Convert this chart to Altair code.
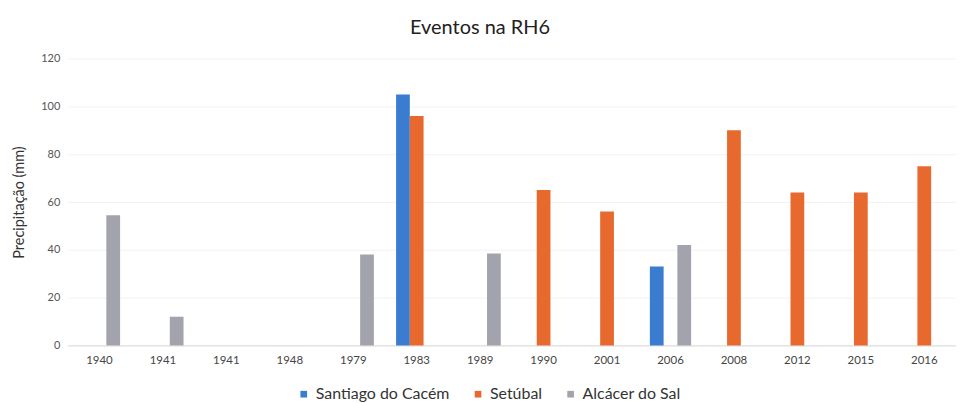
import altair as alt
import pandas as pd

categories = ["1940", "1941", "1941", "1948", "1979", "1983", "1989",
              "1990", "2001", "2006", "2008", "2012", "2015", "2016"]
series = ["Santiago do Cacém", "Setúbal", "Alcácer do Sal"]
colors = ["#3A7DD0", "#E8692E", "#A3A3AD"]

santiago = [None, None, None, None, None, 105, None, None, None, 33, None, None, None, None]
setubal = [None, None, None, None, None, 96, None, 65, 56, None, 90, 64, 64, 75]
alcacer = [54.5, 12, None, None, 38, None, 38.5, None, None, 42, None, None, None, None]

rows = []
for name, vals in zip(series, [santiago, setubal, alcacer]):
    for i, v in enumerate(vals):
        if v is not None:
            rows.append({"idx": i, "serie": name, "valor": v})
df = pd.DataFrame(rows)

label_expr = "[" + ",".join("'%s'" % c for c in categories) + "][datum.value]"
FONT = "Lato"

chart = alt.Chart(df).mark_bar().encode(
    x=alt.X("idx:O",
            scale=alt.Scale(domain=list(range(len(categories))), paddingInner=0.35, paddingOuter=0.175),
            axis=alt.Axis(title=None, labelExpr=label_expr, labelAngle=0, labelFontSize=11.5,
                          labelColor="#444", labelPadding=9, ticks=False, domainColor="#d9d9d9",
                          labelFont=FONT)),
    xOffset=alt.XOffset("serie:N", scale=alt.Scale(domain=series, paddingInner=0, paddingOuter=0)),
    y=alt.Y("valor:Q",
            scale=alt.Scale(domain=[0, 120]),
            axis=alt.Axis(title="Precipitação (mm)", values=[0, 20, 40, 60, 80, 100, 120],
                          titleFontSize=14.5, titleFontWeight="normal", titleColor="#333",
                          titlePadding=14, labelFontSize=11, labelColor="#555", labelPadding=8,
                          ticks=False, domain=False, gridColor="#f2f2f2",
                          labelFont=FONT, titleFont=FONT)),
    color=alt.Color("serie:N",
                    scale=alt.Scale(domain=series, range=colors),
                    legend=alt.Legend(title=None, orient="none", direction="horizontal",
                                      legendX=229, legendY=329, symbolType="square",
                                      symbolSize=45, labelFontSize=16, labelColor="#333",
                                      columnPadding=20, labelFont=FONT, symbolStrokeWidth=0)),
).properties(
    width=892,
    height=288,
    padding={"left": 60, "top": 50, "right": 0, "bottom": 57},
    autosize=alt.AutoSizeParams(type="none"),
    title=alt.TitleParams("Eventos na RH6", fontSize=20, fontWeight="normal", color="#222",
                          font=FONT, offset=15, anchor="middle", dx=-32),
).configure_view(stroke=None)

chart.save("out.html", embed_options={"renderer": "svg", "actions": False})
